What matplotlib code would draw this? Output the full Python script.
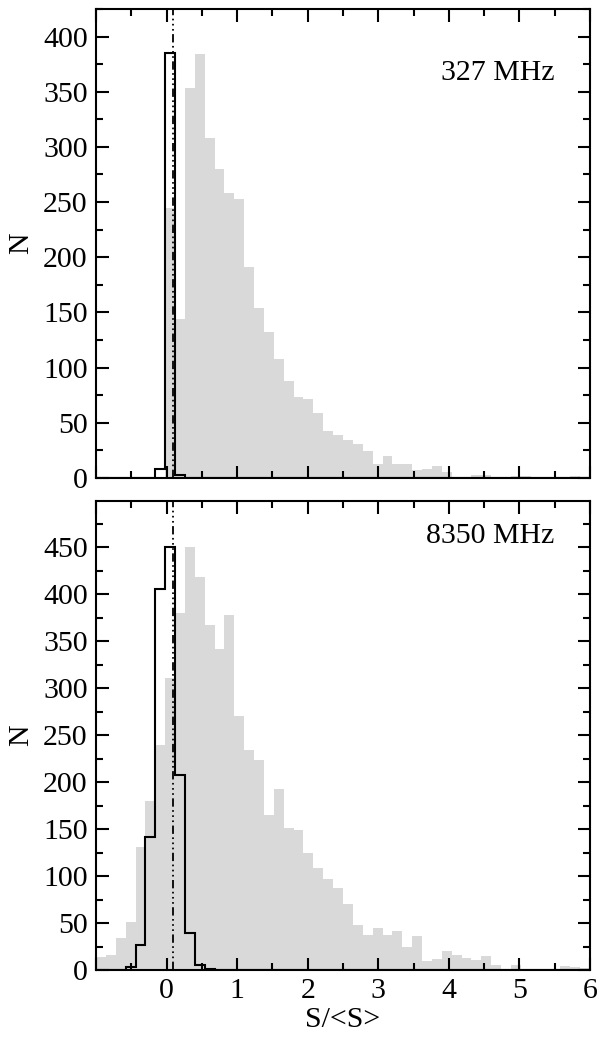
import numpy as np
import matplotlib
matplotlib.use('Agg')
import matplotlib.pyplot as plt
from matplotlib.ticker import MultipleLocator, FuncFormatter

plt.rcParams['font.family'] = ['Liberation Serif', 'DejaVu Serif']
plt.rcParams['font.size'] = 21.5
plt.rcParams['lines.scale_dashes'] = False

# bin edges of the histograms: 50 bins between -1 and 6
edges = np.linspace(-1, 6, 51)

# 327 MHz: source counts (grey) and noise counts (black outline)
grey_327 = [0, 0, 0, 0, 0, 0, 0, 245, 144, 353,
            384, 308, 280, 258, 253, 191, 154, 132, 108, 88,
            73, 72, 59, 43, 39, 34, 31, 24, 13, 20,
            13, 13, 7, 8, 11, 5, 0, 0, 3, 3,
            0, 0, 2, 2, 0, 0, 0, 0, 2, 0]
noise_327 = [0, 0, 0, 0, 0, 0, 8, 385, 3, 0] + [0] * 40

# 8350 MHz
grey_8350 = [14, 16, 34, 51, 131, 180, 239, 311, 380, 450,
             418, 367, 342, 378, 270, 234, 223, 165, 193, 151,
             149, 124, 109, 97, 87, 70, 48, 37, 45, 37,
             42, 25, 36, 10, 12, 20, 16, 13, 11, 15,
             5, 0, 5, 1, 0, 0, 1, 4, 3, 2]
noise_8350 = [0, 0, 0, 3, 27, 141, 405, 450, 207, 39, 5, 1] + [0] * 38

mean_noise = 0.09

panels = [
    ('327 MHz', grey_327, noise_327, 425, 367),
    ('8350 MHz', grey_8350, noise_8350, 499, 462),
]


def xfmt(v, pos):
    # the left edge (-1) carries no label
    if v < -0.5:
        return ''
    return f'{v:.0f}'


fig = plt.figure(figsize=(6, 10.4), dpi=100)
ax_top = fig.add_axes([0.16, 0.5404, 0.8233, 0.451])
ax_bot = fig.add_axes([0.16, 0.0673, 0.8233, 0.451])

for ax, (label, grey, noise, ymax, ytext) in zip([ax_top, ax_bot], panels):
    ax.stairs(grey, edges, fill=True, color='#d9d9d9', lw=0)
    ax.stairs(noise, edges, color='k', lw=1.5)
    ax.axvline(mean_noise, color='k', lw=1.3,
               linestyle=(0, (6, 2.5, 1.2, 2.5, 1.2, 2.5, 1.2, 2.5)))
    ax.set_xlim(-1, 6)
    ax.set_ylim(0, ymax)
    ax.text(5.5, ytext, label, ha='right', va='center')
    ax.set_ylabel('N', labelpad=6)
    ax.xaxis.set_major_locator(MultipleLocator(1))
    ax.xaxis.set_minor_locator(MultipleLocator(0.5))
    ax.xaxis.set_major_formatter(FuncFormatter(xfmt))
    ax.yaxis.set_major_locator(MultipleLocator(50))
    ax.yaxis.set_minor_locator(MultipleLocator(25))
    ax.tick_params(which='both', direction='in', top=True, right=True, width=1.5)
    ax.tick_params(which='major', length=9, pad=6)
    ax.tick_params(which='minor', length=5)
    for s in ax.spines.values():
        s.set_linewidth(1.5)

ax_top.tick_params(labelbottom=False)
ax_bot.set_xlabel('S/<S>', labelpad=2)

fig.savefig('out.png', dpi=100)
